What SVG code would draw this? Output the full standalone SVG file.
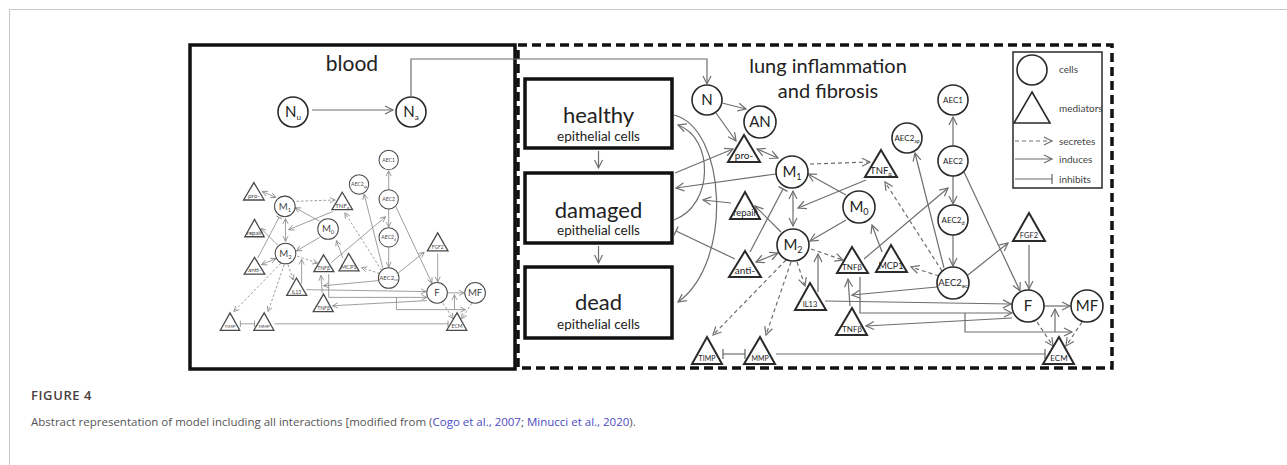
<svg xmlns="http://www.w3.org/2000/svg" xmlns:xlink="http://www.w3.org/1999/xlink" width="1287" height="465" viewBox="0 0 1287 465">
<style>
.c{fill:#fff;stroke:#2a2a2a;stroke-width:1.6}
.t{fill:#fff;stroke:#2a2a2a;stroke-width:2;stroke-linejoin:miter}
.ln{fill:none;stroke:#6e6e6e;stroke-width:1.2}
.ds{stroke-dasharray:4 3}
.arr{marker-end:url(#a)}
.arr2{marker-start:url(#a);marker-end:url(#a)}
.inh{marker-end:url(#b)}
.inh2{marker-start:url(#b);marker-end:url(#b)}
.box{fill:#fff;stroke:#111;stroke-width:3.5}
text{font-family:Lato,"Liberation Sans",sans-serif;fill:#222;text-anchor:middle}
.s8{font-size:8px}
.s10{font-size:10px}
.s14{font-size:15px}
.lg{font-size:10px;text-anchor:start;fill:#444}
</style>
<defs>
<marker id="a" viewBox="-10 -5 12 10" refX="0" refY="0" markerWidth="12" markerHeight="10" markerUnits="userSpaceOnUse" orient="auto-start-reverse">
<path d="M-8,-4 L0,0 L-8,4" fill="none" stroke="#6e6e6e" stroke-width="1.2"/>
</marker>
<marker id="b" viewBox="-2 -6 4 12" refX="0" refY="0" markerWidth="4" markerHeight="12" markerUnits="userSpaceOnUse" orient="auto">
<path d="M0,-5 V5" stroke="#6e6e6e" stroke-width="1.3"/>
</marker>
</defs>

<!-- page frame -->
<path d="M9.5,465 V9.5 H1287" fill="none" stroke="#c8c8c8" stroke-width="1"/>

<!-- compartments -->
<g id="blood-box">
<rect class="box" x="190" y="45" width="325" height="324"/>
<text x="352" y="71" style="font-size:21px">blood</text>
</g>
<g id="lung-box">
<rect x="518" y="45" width="594" height="323" fill="none" stroke="#111" stroke-width="3.5" stroke-dasharray="9 5"/>
<text x="828" y="73" style="font-size:20px">lung inflammation</text>
<text x="828" y="98" style="font-size:20px">and fibrosis</text>
</g>

<g id="healthy"><rect class="box" x="525" y="79" width="147" height="69"/>
<text x="598.5" y="123" style="font-size:22px">healthy</text>
<text x="598.5" y="141" style="font-size:13.5px">epithelial cells</text></g>
<g id="damaged"><rect class="box" x="525" y="173" width="147" height="70"/>
<text x="598.5" y="218" style="font-size:22px">damaged</text>
<text x="598.5" y="235" style="font-size:13.5px">epithelial cells</text></g>
<g id="dead"><rect class="box" x="525" y="267" width="147" height="71"/>
<text x="598.5" y="310" style="font-size:22px">dead</text>
<text x="598.5" y="329" style="font-size:13.5px">epithelial cells</text></g>

<!-- legend -->
<g id="legend">
<rect x="1013" y="52" width="89" height="136" fill="#fff" stroke="#2a2a2a" stroke-width="1.5"/>
<circle class="c" cx="1032" cy="70" r="15"/>
<polygon class="t" points="1032,92 1050,123 1014,123" style="stroke-width:1.6"/>
<path class="ln ds arr" d="M1015,141 H1052"/>
<path class="ln arr" d="M1015,159 H1052"/>
<path class="ln inh" d="M1015,179 H1052"/>
<text class="lg" x="1059" y="73">cells</text>
<text class="lg" x="1059" y="112">mediators</text>
<text class="lg" x="1059" y="145">secretes</text>
<text class="lg" x="1059" y="163">induces</text>
<text class="lg" x="1059" y="183">inhibits</text>
</g>

<!-- blood neutrophils -->
<g id="Nu"><circle class="c" cx="293" cy="112" r="15"/><text class="s14" x="293" y="117">N<tspan style="font-size:8px" dy="3">u</tspan></text></g>
<g id="Na"><circle class="c" cx="411" cy="112" r="15"/><text class="s14" x="411" y="117">N<tspan style="font-size:8px" dy="3">a</tspan></text></g>
<g id="N"><circle class="c" cx="707" cy="100" r="15"/><text class="s14" x="707" y="105">N</text></g>
<g id="AN"><circle class="c" cx="760" cy="122" r="16"/><text class="s14" x="760" y="127">AN</text></g>

<!-- connectors attached to compartments -->
<g id="box-connectors">
<path class="ln arr" d="M312,110 H393"/>
<path class="ln arr" d="M411,97 V59 H707 V84"/>
<path class="ln arr" d="M722,103 L746,109"/>
<path class="ln arr" d="M716,113 L736,141"/>
<path class="ln arr" d="M675,173 L733,149"/>
<path class="ln arr" d="M776,174 L676,188"/>
<path class="ln arr" d="M731,203 L703,200"/>
<path class="ln inh" d="M735,259 L676,231"/>
<path class="ln arr" d="M674,220 C714,205 714,138 678,125"/>
<path class="ln arr" d="M674,115 C726,128 734,262 678,302"/>
<path class="ln arr" d="M598.5,151 V168"/>
<path class="ln arr" d="M598.5,246 V263"/>
</g>

<!-- interaction network (also reused as the small copy in blood) -->
<g id="network">
<g id="connectors">
<path class="ln arr2" d="M757,149 L778,158"/>
<path class="ln ds arr" d="M810,164 L870,162"/>
<path class="ln arr" d="M846,195 L808,174"/>
<path class="ln arr" d="M866,180 L798,208"/>
<path class="ln arr2" d="M793,191 V226"/>
<path class="ln arr" d="M846,220 L810,241"/>
<path class="ln arr" d="M781,232 L755,206"/>
<path class="ln arr2" d="M756,262 L778,253"/>
<path class="ln inh" d="M750,252 L783,189"/>
<path class="ln ds arr" d="M811,249 L843,260"/>
<path class="ln ds arr" d="M797,262 L805,286"/>
<path class="ln arr" d="M818,292 V254"/>
<path class="ln ds arr" d="M786,260 L713,335"/>
<path class="ln ds arr" d="M791,262 L766,335"/>
<path class="ln inh2" d="M723,354 H745"/>
<path class="ln inh" d="M776,354 H1045"/>
<path class="ln arr" d="M864,259 L948,188"/>
<path class="ln arr" d="M882,252 L872,225"/>
<path class="ln ds arr" d="M939,276 L911,267"/>
<path class="ln ds arr" d="M942,271 L885,182"/>
<path class="ln arr" d="M944,268 L915,153"/>
<path class="ln arr" d="M953,146 V117"/>
<path class="ln arr" d="M953,176 V204"/>
<path class="ln arr" d="M953,235 V266"/>
<path class="ln arr" d="M964,172 L1020,291"/>
<path class="ln arr" d="M968,275 L1008,243"/>
<path class="ln arr" d="M1029,245 V289"/>
<path class="ln arr" d="M937,287 L852,295"/>
<path class="ln arr" d="M850,306 L848,279"/>
<path class="ln arr" d="M825,301 L1011,304"/>
<path class="ln arr" d="M860,277 V313 H1012"/>
<path class="ln arr" d="M1012,318 L866,326"/>
<path class="ln arr" d="M965,313 V332 H1072"/>
<path class="ln arr" d="M1055,332 V309"/>
<path class="ln arr" d="M1044,306 H1070"/>
<path class="ln ds arr" d="M1037,322 L1053,346"/>
<path class="ln ds arr" d="M1082,322 L1066,346"/>
</g>
<g id="M1"><circle class="c" cx="792" cy="172" r="16"/><text class="s14" x="792" y="177">M<tspan style="font-size:9px" dy="3">1</tspan></text></g>
<g id="M0"><circle class="c" cx="859" cy="207" r="16"/><text class="s14" x="859" y="212">M<tspan style="font-size:9px" dy="3">0</tspan></text></g>
<g id="M2"><circle class="c" cx="793" cy="245" r="16"/><text class="s14" x="793" y="250">M<tspan style="font-size:9px" dy="3">2</tspan></text></g>
<g id="AEC1"><circle class="c" cx="953" cy="100" r="15"/><text class="s8" x="953" y="103">AEC1</text></g>
<g id="AEC2ap"><circle class="c" cx="907" cy="138" r="15"/><text class="s8" x="907" y="141">AEC2<tspan style="font-size:5px" dy="2">ap</tspan></text></g>
<g id="AEC2"><circle class="c" cx="953" cy="161" r="15"/><text class="s8" x="953" y="164">AEC2</text></g>
<g id="AEC2d"><circle class="c" cx="953" cy="220" r="15"/><text class="s8" x="953" y="223">AEC2<tspan style="font-size:5.5px" dy="2">d</tspan></text></g>
<g id="AEC2ec"><circle class="c" cx="953" cy="283" r="16"/><text style="font-size:9.5px" x="953" y="286">AEC2<tspan style="font-size:6px" dy="2">ec</tspan></text></g>
<g id="F"><circle class="c" cx="1028" cy="306" r="16"/><text class="s14" x="1028" y="311">F</text></g>
<g id="MF"><circle class="c" cx="1087" cy="306" r="16"/><text class="s14" x="1087" y="311">MF</text></g>
<g id="pro"><polygon class="t" points="744,135 760,162 728,162"/><text class="s10" x="744" y="159">pro-</text></g>
<g id="repair"><polygon class="t" points="745,192 760,219 730,219"/><text style="font-size:9.5px" x="745" y="216">repair</text></g>
<g id="anti"><polygon class="t" points="745,251 761,277 729,277"/><text class="s10" x="745" y="274">anti-</text></g>
<g id="TNFa"><polygon class="t" points="881,150 897,177 865,177"/><text style="font-size:9.5px" x="881" y="174">TNF<tspan style="font-size:6px" dy="2">α</tspan></text></g>
<g id="TNFb-active"><polygon class="t" points="852,247 868,273 837,273"/><text class="s8" x="852" y="270">TNFβ</text></g>
<g id="MCP1"><polygon class="t" points="891,245 907,272 876,272"/><text style="font-size:9px" x="891" y="269">MCP1</text></g>
<g id="IL13"><polygon class="t" points="810,283 826,310 795,310"/><text style="font-size:7.5px" x="810" y="307">IL13</text></g>
<g id="TNFb"><polygon class="t" points="852,308 867,335 836,335"/><text class="s8" x="852" y="332">TNFβ</text></g>
<g id="FGF2"><polygon class="t" points="1029,213 1045,241 1013,241"/><text style="font-size:7.5px" x="1029" y="238">FGF2</text></g>
<g id="TIMP"><polygon class="t" points="707,337 722,364 692,364"/><text style="font-size:7px" x="707" y="361">TIMP</text></g>
<g id="MMP"><polygon class="t" points="760,337 775,364 744,364"/><text style="font-size:7px" x="760" y="361">MMP</text></g>
<g id="ECM"><polygon class="t" points="1059,337 1074,364 1043,364"/><text class="s8" x="1059" y="361">ECM</text></g>
</g>

<!-- small copy of the network inside the blood compartment -->
<use xlink:href="#network" href="#network" transform="translate(-226,95.5) scale(0.645)" opacity="0.85"/>

<!-- caption -->
<g id="caption">
<text x="31" y="400" style="font-family:'Open Sans','Liberation Sans',sans-serif;font-size:13px;font-weight:600;text-anchor:start;fill:#4a4040;letter-spacing:0.6px">FIGURE 4</text>
<text x="31" y="426" style="font-family:'Open Sans','Liberation Sans',sans-serif;font-size:11.5px;text-anchor:start;fill:#555">Abstract representation of model including all interactions [modified from (<tspan fill="#4b4bc4">Cogo et al., 2007</tspan>; <tspan fill="#4b4bc4">Minucci et al., 2020</tspan>).</text>
</g>
</svg>
